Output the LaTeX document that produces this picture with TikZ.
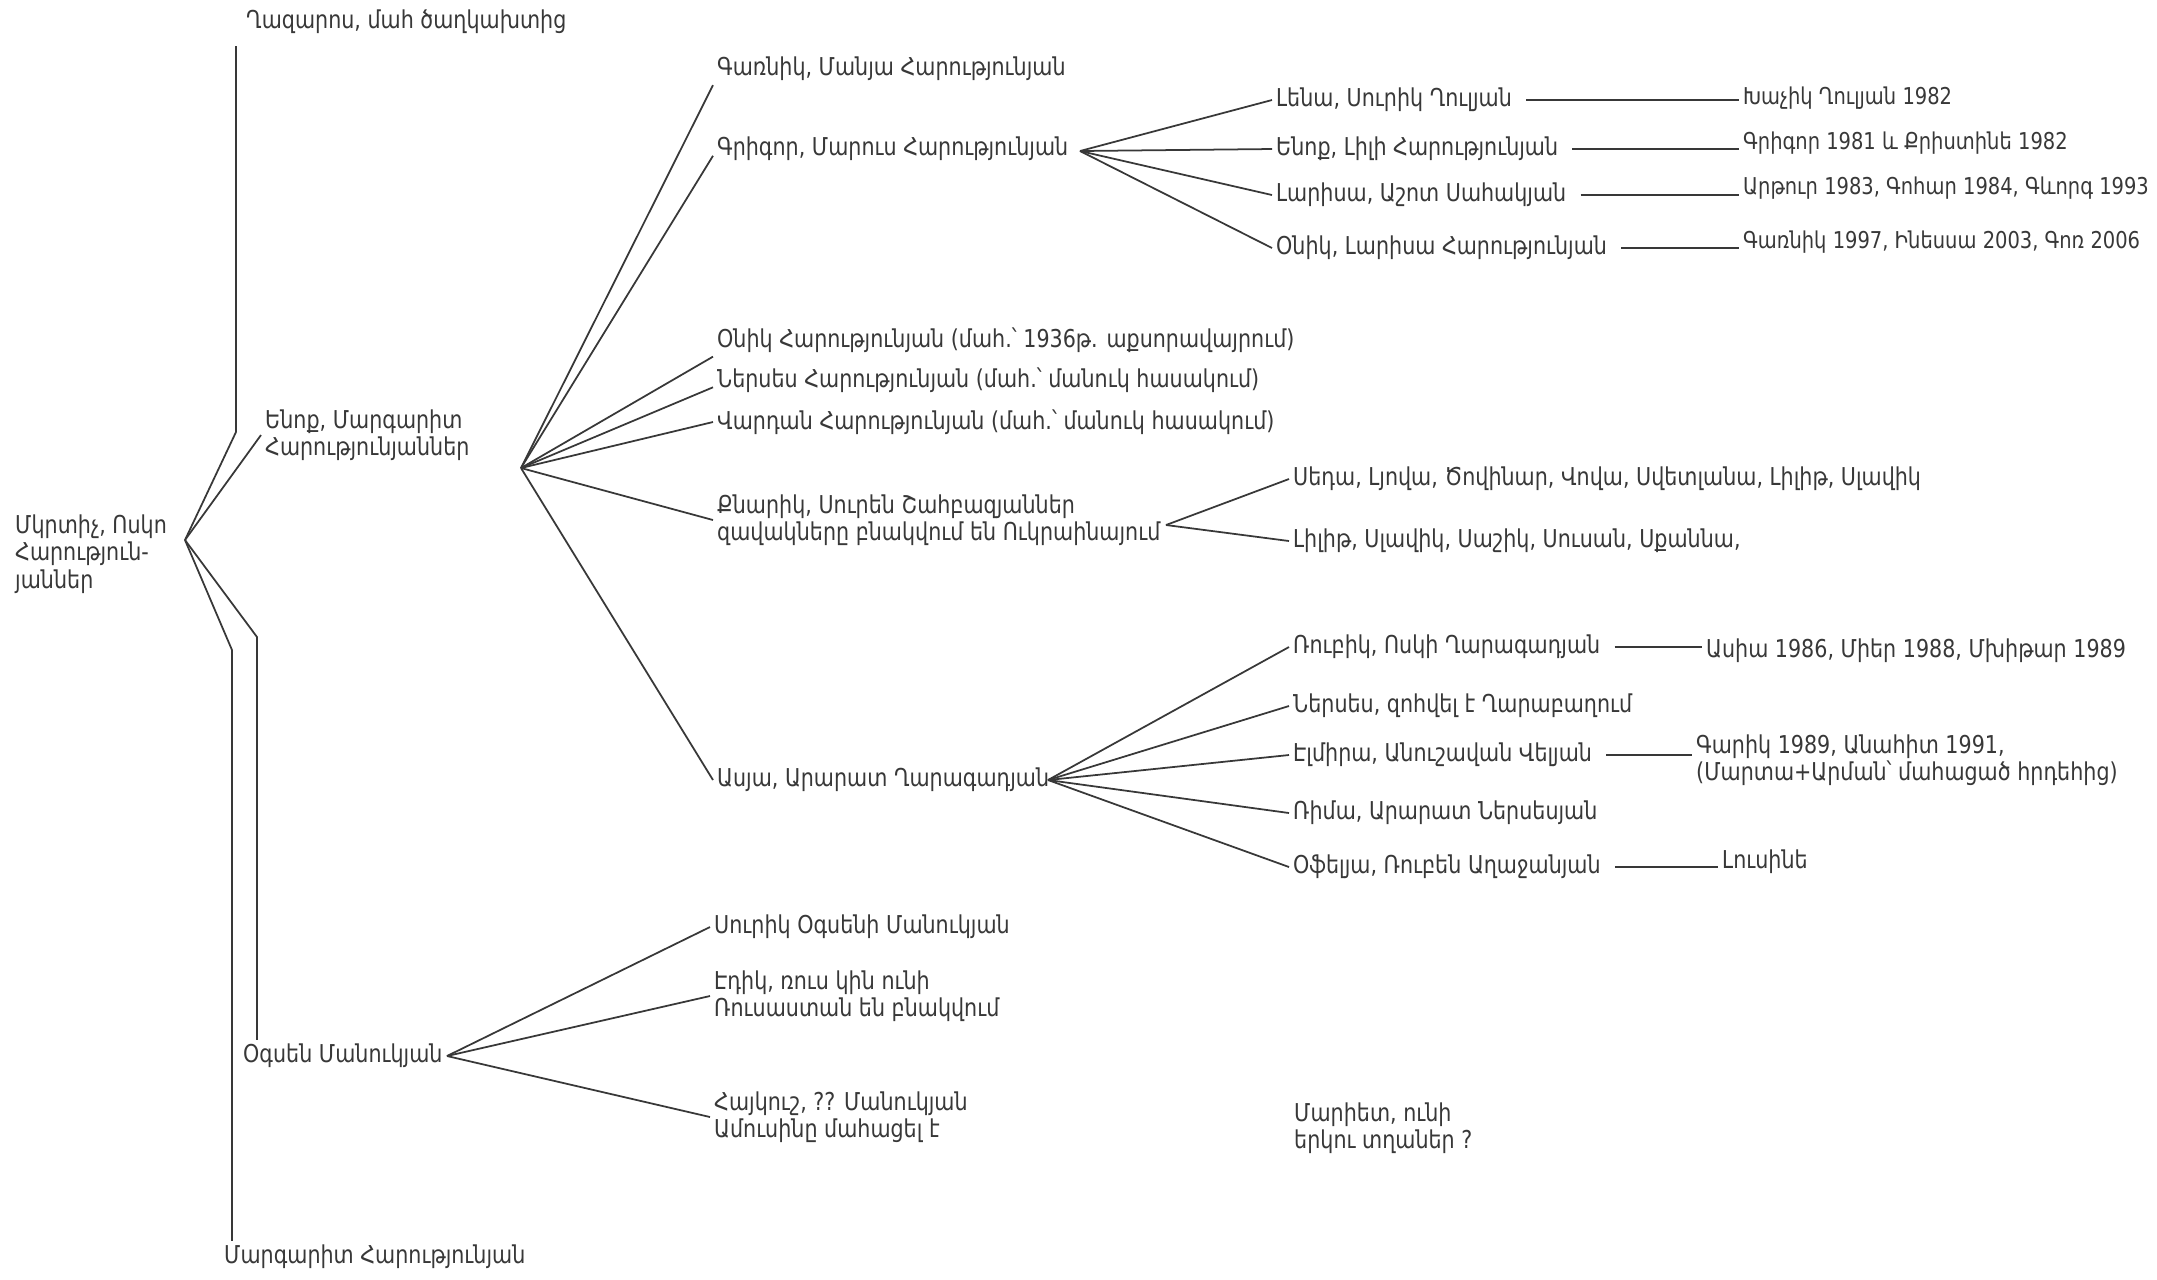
\documentclass[tikz,border=0pt]{standalone}
\usepackage{fontspec}
\setmainfont{DejaVu Sans}[FakeStretch=0.84]
\definecolor{inkgray}{HTML}{383838}
\tikzset{
    person/.style={anchor=west, inner sep=1pt, align=left, text=inkgray, font=\fontsize{7}{7.8}\selectfont},
    twig/.style={draw=inkgray, line width=0.5pt},
}
\begin{document}
\begin{tikzpicture}[x=0.1mm, y=-0.1mm]
                \useasboundingbox (0,0) rectangle (2157,1279);
                % first generation
                \node[person] (root) at (11,554) {Մկրտիչ, Ոսկո\\Հարություն-\\յաններ};
                \coordinate (hr) at (185,540);
                \node[person] (ghazaros) at (242,22) {Ղազարոս, մահ ծաղկախտից};
                \node[person] (enok) at (261,435) {Ենոք, Մարգարիտ\\Հարությունյաններ};
                \node[person] (ogsen) at (239,1056) {Օգսեն Մանուկյան};
                \node[person] (margarit) at (220,1257) {Մարգարիտ Հարությունյան};

                \coordinate (kgh) at (236,432);
                \coordinate (kmar) at (232,650);
                \coordinate (kogs) at (257,637);
                \draw[twig] (hr) -- (kgh) -- ([yshift=-0.8mm]kgh |- ghazaros.south);
                \draw[twig] (hr) -- (enok.west);
                \draw[twig] (hr) -- (kmar) -- (kmar |- margarit.north);
                \draw[twig] (hr) -- (kogs) -- (kogs |- ogsen.north);

                % Enok's children
                \coordinate (he) at (521,468);
                \foreach \nm/\yy/\anc/\txt in {garnik/69/south west/{Գառնիկ, Մանյա Հարությունյան},
                        grigor/149/base west/{Գրիգոր, Մարուս Հարությունյան},
                        onik/340/south west/{Օնիկ Հարությունյան (մահ.՝ 1936թ. աքսորավայրում)},
                        nerses/380/base west/{Ներսես Հարությունյան (մահ.՝ մանուկ հասակում)},
                        vardan/422/west/{Վարդան Հարությունյան (մահ.՝ մանուկ հասակում)},
                        knarik/520/west/{Քնարիկ, Սուրեն Շահբազյաններ\\զավակները բնակվում են Ուկրաինայում},
                        asya/780/west/{Ասյա, Արարատ Ղարագադյան}} {
                        \node[person] (\nm) at (713,\yy) {\txt};
                        \draw[twig] (he) -- (\nm.\anc);
                    }

                % Grigor
                \coordinate (hg) at (1080,151);
                \foreach \nm/\yy/\txt in {lena/100/{Լենա, Սուրիկ Ղուլյան},
                        enokb/149/{Ենոք, Լիլի Հարությունյան},
                        larisa/195/{Լարիսա, Աշոտ Սահակյան},
                        onikb/248/{Օնիկ, Լարիսա Հարությունյան}} {
                        \node[person] (\nm) at (1272,\yy) {\txt};
                        \draw[twig] (hg) -- (\nm.west);
                    }
                \foreach \nm/\yy/\txt in {khachik/98/{Խաչիկ Ղուլյան 1982},
                        grigb/143/{Գրիգոր 1981 և Քրիստինե 1982},
                        artur/188/{Արթուր 1983, Գոհար 1984, Գևորգ 1993},
                        garnikb/242/{Գառնիկ 1997, Ինեսսա 2003, Գոռ 2006}} {
                        \node[person, font=\fontsize{6.6}{7.8}\selectfont] (\nm) at (1739,\yy) {\txt};
                    }
                \foreach \a/\b in {lena/khachik, enokb/grigb, larisa/artur, onikb/garnikb}
                    \draw[twig] ([xshift=1mm]\a.east) -- (\a.east -| \b.west);

                % Knarik
                \coordinate (hk) at (1166,525);
                \node[person] (seda) at (1289,479) {Սեդա, Լյովա, Ծովինար, Վովա, Սվետլանա, Լիլիթ, Սլավիկ};
                \node[person] (lilit) at (1289,541) {Լիլիթ, Սլավիկ, Սաշիկ, Սուսան, Սքաննա,};
                \draw[twig] (hk) -- (seda.west);
                \draw[twig] (hk) -- (lilit.west);

                % Asya
                \coordinate (ha) at (1048,780);
                \foreach \nm/\yy/\txt in {rubik/647/{Ռուբիկ, Ոսկի Ղարագադյան},
                        nersesb/706/{Ներսես, զոհվել է Ղարաբաղում},
                        elmira/755/{Էլմիրա, Անուշավան Վելյան},
                        rima/813/{Ռիմա, Արարատ Ներսեսյան},
                        ofelya/867/{Օֆելյա, Ռուբեն Աղաջանյան}} {
                        \node[person] (\nm) at (1289,\yy) {\txt};
                        \draw[twig] (ha) -- (\nm.west);
                    }
                \node[person] (asia) at (1702,651) {Ասիա 1986, Միեր 1988, Մխիթար 1989};
                \node[person] (garik) at (1692,760) {Գարիկ 1989, Անահիտ 1991,\\(Մարտա+Արման՝ մահացած հրդեհից)};
                \node[person] (lusine) at (1718,862) {Լուսինե};
                \foreach \a/\b in {rubik/asia, elmira/garik, ofelya/lusine}
                    \draw[twig] ([xshift=1mm]\a.east) -- (\a.east -| \b.west);

                % Ogsen
                \coordinate (ho) at (447,1056);
                \foreach \nm/\yy/\txt in {surik/927/{Սուրիկ Օգսենի Մանուկյան},
                        edik/996/{Էդիկ, ռուս կին ունի\\Ռուսաստան են բնակվում},
                        haykush/1117/{Հայկուշ, ?? Մանուկյան\\Ամուսինը մահացել է}} {
                        \node[person] (\nm) at (710,\yy) {\txt};
                        \draw[twig] (ho) -- (\nm.west);
                    }
                \node[person] (mariet) at (1290,1128) {Մարիետ, ունի\\երկու տղաներ ?};
            \end{tikzpicture}
\end{document}
